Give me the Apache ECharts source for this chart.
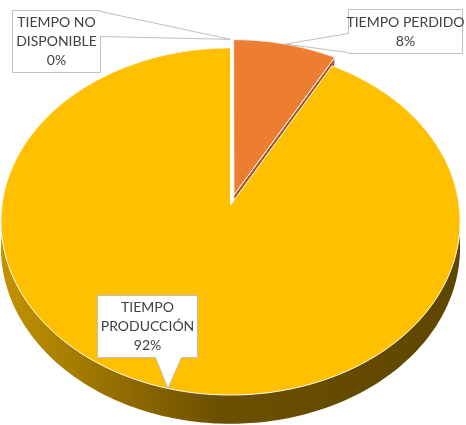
<!DOCTYPE html>
<html>
<head>
<meta charset="utf-8">
<style>
  html, body { margin: 0; padding: 0; background: #ffffff; }
  #chart { width: 466px; height: 425px; }
</style>
<script src="https://cdn.jsdelivr.net/npm/echarts@6/dist/echarts.min.js"></script>
</head>
<body>
<div id="chart"></div>
<script>
// Slices, clockwise from 12 o'clock
const categories = ['TIEMPO NO DISPONIBLE', 'TIEMPO PERDIDO', 'TIEMPO PRODUCCIÓN'];
const labelTexts = ['TIEMPO NO\nDISPONIBLE', 'TIEMPO PERDIDO', 'TIEMPO\nPRODUCCIÓN'];
const values = [0, 8, 92];
const sliceColors = ['#A5A5A5', '#ED7D31', '#FFC000'];
const cutFaceColors = ['#7a7a7a', '#a35a2c', '#9c7400'];
const explode = [0.06, 0.06, 0];

// 3D pie projection (tilted disc seen in perspective)
const CX = 230.5, CY = 205, SX = 228.5, SY = 172, K = 0.095, DEPTH = 26;
function P(u, v, h) {
  const w = 1 + K * v;
  return [CX + SX * u / w, CY - SY * v / w + DEPTH * h / w];
}
const rad = d => d * Math.PI / 180;

// Callout boxes: [x0, y0, x1, y1], side with pointer, pointer base range
const callouts = [
  { box: [12, 10, 100, 72], side: 'right', s0: 11, s1: 36 },
  { box: [348, 9, 462, 53], side: 'left', s0: 33, s1: 52 },
  { box: [97, 295, 197, 357], side: 'bottom', s0: 155, s1: 181 }
];

const total = values.reduce((a, b) => a + b, 0);
const starts = [];
values.reduce((acc, v, i) => { starts[i] = acc; return acc + v; }, 0);

function calloutPoints(c, tip) {
  const [x0, y0, x1, y1] = c.box.map(n => n + 0.5);
  const s0 = c.s0 + 0.5, s1 = c.s1 + 0.5;
  if (c.side === 'right') {
    return [[x0, y0], [x1, y0], [x1, s0], tip, [x1, s1], [x1, y1], [x0, y1]];
  } else if (c.side === 'left') {
    return [[x0, y0], [x1, y0], [x1, y1], [x0, y1], [x0, s1], tip, [x0, s0]];
  }
  return [[x0, y0], [x1, y0], [x1, y1], [s1, y1], tip, [s0, y1], [x0, y1]];
}

const sideFill = {
  type: 'linear', x: 0, y: 0, x2: 466, y2: 0, global: true,
  colorStops: [
    { offset: 0, color: '#c39300' },
    { offset: 0.1, color: '#b08500' },
    { offset: 0.3, color: '#8a6700' },
    { offset: 0.47, color: '#6c5000' },
    { offset: 1, color: '#5e4600' }
  ]
};

function renderItem(params, api) {
  const i = params.dataIndex;
  const val = api.value(0);
  const a0 = starts[i] / total * 360;
  const a1 = a0 + val / total * 360;
  const mid = (a0 + a1) / 2;
  const eu = explode[i] * Math.sin(rad(mid));
  const ev = explode[i] * Math.cos(rad(mid));
  const pt = (a, r, h) => P(r * Math.sin(rad(a)) + eu, r * Math.cos(rad(a)) + ev, h);
  const children = [];

  if (val > 0) {
    const n = Math.max(2, Math.ceil(a1 - a0));
    const topArc = [], botArc = [];
    for (let s = 0; s <= n; s++) {
      const a = a0 + (a1 - a0) * s / n;
      topArc.push(pt(a, 1, 0));
      botArc.push(pt(a, 1, 1));
    }
    // outer wall
    children.push({
      type: 'polygon', z2: 1,
      shape: { points: topArc.concat(botArc.slice().reverse()) },
      style: { fill: i === 2 ? sideFill : cutFaceColors[i], stroke: null }
    });
    // radial cut faces facing the viewer
    [[a0, a0 - 90], [a1, a1 + 90]].forEach(([a, na]) => {
      if (Math.cos(rad(na)) < -0.01) {
        children.push({
          type: 'polygon', z2: 2,
          shape: { points: [P(eu, ev, 0), pt(a, 1, 0), pt(a, 1, 1), P(eu, ev, 1)] },
          style: { fill: cutFaceColors[i], stroke: 'rgba(255,255,255,0.9)', lineWidth: 1 }
        });
      }
    });
    // top face
    children.push({
      type: 'polygon', z2: 3,
      shape: { points: [P(eu, ev, 0)].concat(topArc) },
      style: { fill: sliceColors[i], stroke: 'rgba(255,255,255,0.9)', lineWidth: 1 }
    });
  }

  // data label callout
  const c = callouts[i];
  const tip = pt(mid, 1, 0);
  children.push({
    type: 'polygon', z2: 10,
    shape: { points: calloutPoints(c, tip) },
    style: { fill: '#ffffff', stroke: '#bfbfbf', lineWidth: 1 }
  });
  const pct = Math.round(val / total * 100) + '%';
  children.push({
    type: 'text', z2: 11,
    style: {
      text: labelTexts[i] + '\n' + pct,
      x: (c.box[0] + c.box[2]) / 2 + 0.5,
      y: (c.box[1] + c.box[3]) / 2 + 0.5,
      align: 'center', verticalAlign: 'middle',
      font: '14px Lato', lineHeight: 19, fill: '#404040'
    }
  });

  return { type: 'group', children };
}

const chart = echarts.init(document.getElementById('chart'), null, { renderer: 'canvas' });
chart.setOption({
  backgroundColor: '#ffffff',
  animation: false,
  series: [{
    type: 'custom',
    coordinateSystem: 'none',
    renderItem: renderItem,
    data: values.map((v, i) => ({ name: categories[i], value: [v] }))
  }]
});
</script>
</body>
</html>
